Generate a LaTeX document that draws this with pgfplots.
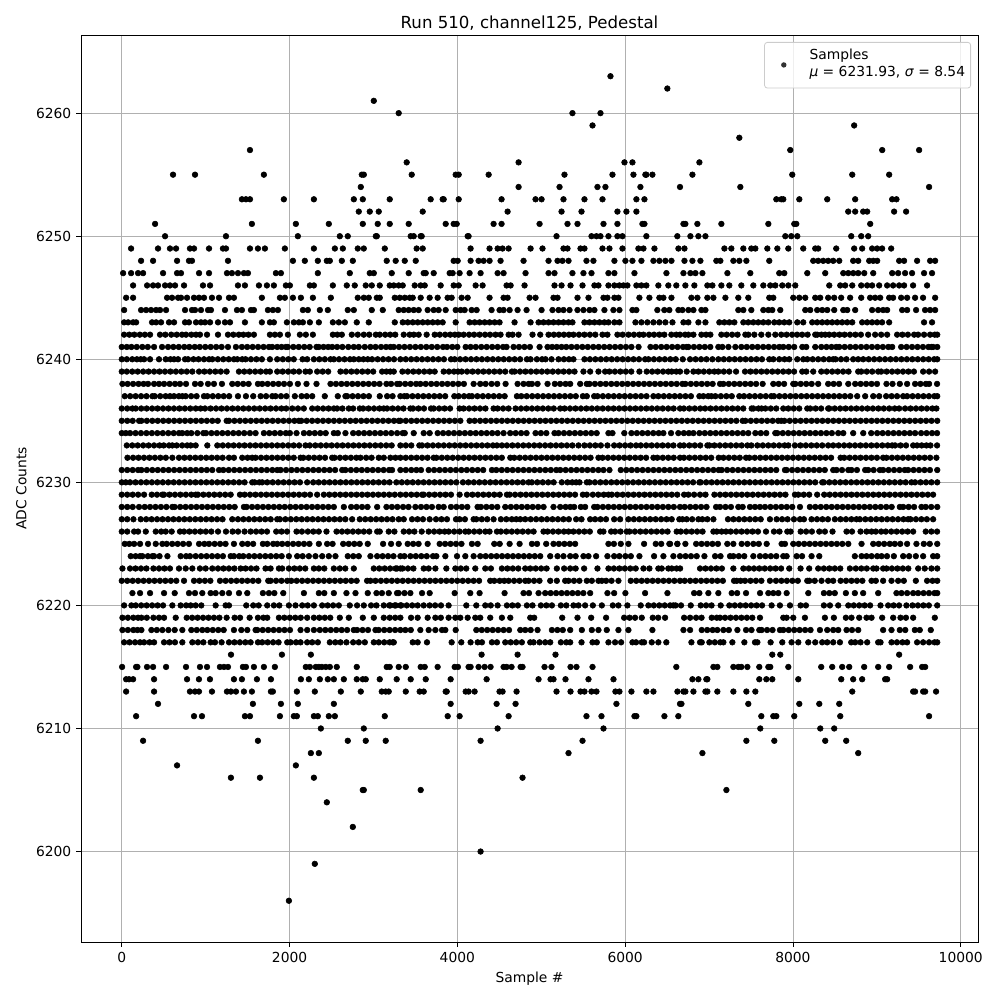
\documentclass[border=0pt]{standalone}
\usepackage{fontspec}
\setmainfont{DejaVu Sans}
\usepackage{pgfplots}
\pgfplotsset{compat=1.18}
\pgfplotsset{
  pts/.style={only marks,mark=*,mark size=2.05pt,mark options={draw=none,fill=black},black,forget plot},
  /pgfplots/table/lv/.style={row sep=\\,header=false,x index=0,y expr=#1}
}
\definecolor{gridc}{HTML}{B0B0B0}
\definecolor{legc}{HTML}{CCCCCC}
\begin{document}
\begin{tikzpicture}
\path[use as bounding box] (-0.81in,-0.58in) rectangle (9.19in,9.42in);
\begin{axis}[
  at={(0,0)},anchor=south west,
  scale only axis,width=8.97in,height=9.07in,
  xmin=-486,xmax=10206,ymin=6192.65,ymax=6266.35,
  xtick={0,2000,4000,6000,8000,10000},
  ytick={6200,6210,6220,6230,6240,6250,6260},
  scaled x ticks=false,scaled y ticks=false,
  grid=major,
  major grid style={color=gridc,line width=0.58pt},
  tick align=outside,tick pos=left,
  major tick length=3.5pt,
  tick style={black,line width=0.58pt},
  axis line style={black,line width=0.58pt},
  /pgf/number format/assume math mode=true,
  /pgf/number format/1000 sep={},
  ticklabel style={font=\fontsize{10}{12}\selectfont},
  label style={font=\fontsize{10}{12}\selectfont},
  xlabel={Sample \#},ylabel={ADC Counts},
  title={Run 510, channel125, Pedestal},
  title style={font=\fontsize{12}{14}\selectfont,yshift=-6pt},
  legend style={at={(0.9922,0.9923)},anchor=north east,draw=legc,line width=0.58pt,rounded corners=2pt,fill=white,fill opacity=0.8,text opacity=1,font=\fontsize{10}{12}\selectfont,inner xsep=2pt,inner ysep=2pt},
  legend cell align=left,
]
\addlegendimage{legend image code/.code={\path[draw=none] (0,-19pt) -- (28.5pt,0);\fill[black,draw=none] (11.9pt,-4.3pt) circle (1.95pt);}}
\addlegendentry{\begin{tabular}{@{}l@{}}Samples\\ \textit{μ} = 6231.93, \textit{σ} = 8.54\end{tabular}}
\addplot[pts] table[lv=6263]{5825\\};
\addplot[pts] table[lv=6262]{6503\\};
\addplot[pts] table[lv=6261]{3004\\};
\addplot[pts] table[lv=6260]{3301\\5372\\5706\\};
\addplot[pts] table[lv=6259]{5611\\8730\\};
\addplot[pts] table[lv=6258]{7361\\};
\addplot[pts] table[lv=6257]{1528\\7968\\9064\\9504\\};
\addplot[pts] table[lv=6256]{3396\\4730\\5992\\6087\\6885\\};
\addplot[pts] table[lv=6255]{611\\873\\1694\\2861\\2885\\3456\\3980\\4016\\4373\\5277\\5849\\6099\\6241\\6253\\6325\\6802\\7992\\8707\\9147\\};
\addplot[pts] table[lv=6254]{2849\\4730\\5218\\5670\\5765\\6182\\6654\\7373\\9623\\};
\addplot[pts] table[lv=6253]{1432\\1480\\1528\\1932\\2290\\2766\\2873\\3194\\3682\\3825\\3837\\4016\\4527\\4932\\5004\\5265\\5515\\5730\\6134\\6230\\7802\\7861\\7885\\8076\\8409\\8742\\9183\\9234\\};
\addplot[pts] table[lv=6252]{2825\\2956\\3063\\3587\\4599\\5242\\5480\\5908\\6015\\6134\\8659\\8742\\8837\\8885\\9206\\9349\\};
\addplot[pts] table[lv=6251]{397\\1551\\2075\\2468\\2873\\3051\\3194\\3420\\3861\\3956\\3992\\4432\\4527\\4980\\5313\\5432\\5742\\5908\\6206\\6230\\6695\\6718\\6861\\7147\\7707\\8016\\8040\\8921\\};
\addplot[pts] table[lv=6250]{516\\1242\\2099\\2599\\2694\\3028\\3040\\3444\\3480\\3563\\3575\\4123\\4134\\5182\\5599\\5658\\5706\\5801\\5908\\5968\\6253\\6622\\6778\\6873\\6957\\7909\\7980\\8052\\8695\\8814\\8897\\};
\addplot[pts] table[lv=6249]{111\\432\\575\\647\\813\\861\\1040\\1206\\1242\\1528\\1623\\1706\\1944\\2290\\2540\\2635\\2813\\2885\\3135\\3515\\3587\\4158\\4384\\4480\\4539\\4611\\4873\\5015\\5265\\5313\\5468\\5515\\5730\\5813\\5968\\6158\\6218\\6349\\6635\\6707\\7183\\7266\\7409\\7504\\7552\\7695\\7814\\7945\\8123\\8266\\8301\\8516\\8730\\8825\\8944\\9004\\9063\\9171\\};
\addplot[pts] table[lv=6248]{230\\373\\659\\801\\837\\1266\\2040\\2182\\2337\\2444\\2480\\2623\\2754\\3158\\3265\\3373\\3504\\3956\\4004\\4158\\4253\\4313\\4384\\4515\\4789\\5087\\5194\\5253\\5325\\5539\\5622\\5872\\6003\\6087\\6194\\6337\\6408\\6480\\6552\\6707\\6802\\6897\\7087\\7135\\7290\\7361\\7445\\7718\\8242\\8301\\8361\\8420\\8480\\8552\\8718\\8778\\8909\\8957\\9004\\9266\\9325\\9480\\9635\\9695\\};
\addplot[pts] table[lv=6247]{16\\111\\194\\254\\492\\659\\706\\921\\1040\\1254\\1313\\1385\\1456\\1504\\1837\\1897\\2337\\2718\\2956\\3004\\3218\\3420\\3599\\3623\\3718\\3908\\3944\\4027\\4146\\4277\\4480\\4551\\4813\\5087\\5158\\5372\\5503\\5599\\5801\\5872\\6111\\6492\\6695\\6778\\6838\\6921\\7219\\7492\\7837\\7897\\8171\\8385\\8600\\8660\\8719\\8778\\8850\\8957\\9183\\9254\\9337\\9420\\9563\\9658\\};
\addplot[pts] table[lv=6246]{135\\302\\373\\432\\516\\575\\635\\742\\968\\1052\\1385\\1468\\1635\\1730\\1813\\1956\\2004\\2242\\2290\\2516\\2682\\2777\\2908\\2980\\3075\\3194\\3242\\3301\\3349\\3492\\3563\\3611\\3801\\3956\\4016\\4218\\4301\\4587\\4635\\4801\\5158\\5242\\5349\\5492\\5634\\5682\\5801\\5872\\5932\\5980\\6027\\6134\\6194\\6253\\6396\\6515\\6610\\6718\\6825\\6980\\7040\\7147\\7242\\7385\\7528\\7647\\7730\\7790\\7873\\7945\\8028\\8433\\8564\\8623\\8707\\8814\\8885\\8944\\9028\\9123\\9194\\9266\\9325\\9432\\9599\\};
\addplot[pts] table[lv=6245]{52\\135\\540\\599\\671\\706\\778\\861\\921\\980\\1075\\1159\\1278\\1337\\1670\\1885\\1944\\2040\\2135\\2278\\2492\\2813\\2885\\2944\\3040\\3075\\3254\\3313\\3373\\3432\\3468\\3563\\3670\\3765\\3884\\3932\\4051\\4123\\4384\\4551\\4599\\4861\\4932\\5146\\5194\\5432\\5563\\5742\\5789\\5872\\5920\\6170\\6289\\6408\\6456\\6552\\6790\\6861\\6980\\7052\\7195\\7349\\7468\\7718\\7766\\8004\\8076\\8147\\8266\\8325\\8420\\8492\\8575\\8682\\8814\\8920\\8980\\9040\\9147\\9194\\9290\\9361\\9456\\9551\\9695\\};
\addplot[pts] table[lv=6244]{28\\230\\290\\349\\409\\456\\528\\754\\837\\873\\944\\1028\\1063\\1230\\1373\\1432\\1540\\1575\\1742\\1801\\1861\\2159\\2218\\2361\\2456\\2694\\2766\\2980\\3111\\3301\\3361\\3420\\3480\\3539\\3646\\3718\\3777\\3861\\3980\\4039\\4087\\4170\\4230\\4408\\4503\\4551\\4623\\4718\\4825\\5004\\5134\\5206\\5265\\5337\\5432\\5503\\5575\\5634\\5753\\5860\\5932\\6087\\6134\\6384\\6467\\6527\\6635\\6683\\6754\\6814\\6909\\6957\\7349\\7409\\7504\\7647\\7707\\7754\\7849\\8147\\8206\\8289\\8349\\8409\\8492\\8600\\8647\\8742\\8944\\9016\\9075\\9123\\9302\\9361\\9468\\9575\\9635\\9695\\};
\addplot[pts] table[lv=6243]{28\\76\\135\\171\\361\\409\\468\\563\\623\\754\\801\\885\\944\\992\\1052\\1147\\1230\\1290\\1468\\1670\\1766\\1813\\1968\\2051\\2111\\2159\\2242\\2349\\2516\\2587\\2659\\2801\\2944\\3254\\3349\\3408\\3468\\3527\\3587\\3646\\3706\\3765\\3825\\3980\\4146\\4206\\4265\\4325\\4384\\4444\\4503\\4682\\4873\\4968\\5027\\5087\\5146\\5206\\5265\\5325\\5372\\5515\\5575\\5634\\5694\\5753\\5801\\5872\\5932\\6123\\6194\\6265\\6337\\6408\\6480\\6564\\6695\\6754\\6873\\6957\\7123\\7183\\7242\\7302\\7409\\7468\\7528\\7587\\7647\\7707\\7778\\7837\\7897\\7956\\8052\\8123\\8230\\8289\\8349\\8409\\8468\\8528\\8587\\8647\\8707\\8825\\8885\\8944\\9004\\9063\\9147\\9563\\9658\\};
\addplot[pts] table[lv=6242]{28\\90\\150\\215\\275\\337\\456\\520\\590\\655\\718\\766\\830\\885\\932\\1016\\1147\\1266\\1330\\1395\\1450\\1510\\1575\\1766\\1825\\1885\\1980\\2123\\2194\\2278\\2516\\2570\\2623\\2742\\2813\\2885\\2950\\3028\\3075\\3140\\3200\\3260\\3361\\3432\\3480\\3539\\3634\\3730\\3790\\3855\\3915\\3970\\4016\\4075\\4140\\4200\\4265\\4330\\4390\\4455\\4515\\4611\\4658\\4730\\4896\\4988\\5087\\5150\\5210\\5270\\5330\\5384\\5450\\5515\\5580\\5645\\5730\\5789\\5908\\5970\\6040\\6105\\6170\\6218\\6285\\6345\\6408\\6467\\6551\\6610\\6654\\6715\\6754\\6814\\6909\\6965\\7016\\7147\\7210\\7275\\7340\\7433\\7468\\7540\\7623\\7707\\7790\\7861\\7925\\7990\\8050\\8110\\8175\\8266\\8289\\8340\\8385\\8433\\8492\\8555\\8615\\8680\\8745\\8810\\8897\\8980\\9052\\9123\\9242\\9305\\9370\\9445\\9492\\9563\\9635\\9690\\9720\\};
\addplot[pts] table[lv=6241]{0\\60\\115\\179\\245\\310\\385\\480\\552\\615\\680\\745\\805\\870\\930\\995\\1060\\1125\\1190\\1266\\1361\\1432\\1495\\1560\\1625\\1690\\1754\\1793\\1853\\1905\\1956\\1980\\2045\\2110\\2175\\2240\\2321\\2349\\2405\\2460\\2508\\2567\\2630\\2700\\2766\\2825\\2897\\2964\\3025\\3090\\3150\\3202\\3242\\3305\\3370\\3435\\3500\\3565\\3630\\3695\\3760\\3829\\3877\\3940\\4000\\4099\\4158\\4220\\4285\\4350\\4415\\4480\\4545\\4587\\4670\\4735\\4800\\4865\\4980\\5075\\5130\\5185\\5242\\5298\\5360\\5425\\5490\\5555\\5620\\5685\\5750\\5815\\5880\\5945\\6010\\6075\\6160\\6302\\6365\\6430\\6495\\6560\\6625\\6690\\6734\\6754\\6820\\6885\\6950\\7015\\7111\\7159\\7231\\7314\\7385\\7450\\7515\\7580\\7645\\7710\\7775\\7837\\7885\\7950\\8015\\8112\\8159\\8266\\8338\\8400\\8460\\8516\\8552\\8617\\8682\\8747\\8812\\8877\\8942\\9007\\9072\\9137\\9183\\9290\\9355\\9420\\9485\\9550\\9615\\9651\\9671\\9720\\};
\addplot[pts] table[lv=6240]{0\\60\\125\\180\\226\\266\\337\\444\\524\\580\\623\\671\\754\\790\\855\\915\\980\\1040\\1079\\1145\\1210\\1275\\1337\\1377\\1436\\1476\\1540\\1605\\1670\\1766\\1853\\1920\\1985\\2050\\2155\\2210\\2290\\2355\\2420\\2488\\2528\\2590\\2655\\2720\\2766\\2825\\2880\\2932\\2984\\3050\\3115\\3180\\3245\\3321\\3385\\3450\\3515\\3580\\3645\\3710\\3775\\3840\\3924\\3968\\4033\\4098\\4163\\4228\\4293\\4358\\4423\\4488\\4553\\4618\\4683\\4748\\4829\\4873\\4948\\5010\\5051\\5123\\5206\\5270\\5330\\5384\\5515\\5580\\5645\\5710\\5775\\5840\\5905\\5970\\6035\\6100\\6165\\6238\\6278\\6343\\6408\\6473\\6538\\6603\\6687\\6774\\6840\\6905\\6970\\7040\\7111\\7176\\7241\\7306\\7371\\7436\\7501\\7566\\7631\\7718\\7766\\7837\\7900\\7956\\8052\\8123\\8171\\8236\\8301\\8366\\8431\\8480\\8508\\8573\\8638\\8718\\8778\\8838\\8903\\8968\\9033\\9098\\9163\\9228\\9293\\9358\\9423\\9488\\9553\\9618\\9683\\9720\\};
\addplot[pts] table[lv=6239]{0\\60\\125\\190\\255\\320\\385\\450\\515\\580\\645\\710\\775\\841\\921\\985\\1050\\1115\\1180\\1250\\1397\\1460\\1525\\1590\\1655\\1720\\1766\\1853\\1918\\1983\\2048\\2113\\2190\\2242\\2329\\2395\\2460\\2607\\2672\\2737\\2802\\2867\\2932\\2997\\3103\\3155\\3200\\3242\\3345\\3410\\3475\\3540\\3605\\3670\\3730\\3837\\3900\\3960\\4008\\4051\\4116\\4181\\4246\\4311\\4376\\4441\\4506\\4571\\4650\\4682\\4747\\4812\\4877\\4942\\5007\\5072\\5137\\5202\\5267\\5332\\5397\\5503\\5583\\5682\\5761\\5813\\5878\\5943\\6008\\6073\\6170\\6257\\6322\\6387\\6452\\6515\\6555\\6610\\6654\\6734\\6814\\6873\\6938\\7003\\7064\\7111\\7176\\7241\\7322\\7429\\7494\\7559\\7624\\7689\\7754\\7819\\7884\\7949\\8014\\8111\\8159\\8242\\8338\\8403\\8468\\8533\\8598\\8663\\8778\\8814\\8880\\8945\\9016\\9052\\9117\\9182\\9247\\9312\\9377\\9442\\9552\\9623\\9695\\};
\addplot[pts] table[lv=6238]{8\\70\\135\\200\\260\\313\\385\\444\\504\\570\\635\\694\\766\\873\\940\\1028\\1099\\1194\\1317\\1382\\1447\\1512\\1623\\1674\\1739\\1804\\1869\\1934\\2004\\2099\\2202\\2321\\2488\\2553\\2618\\2683\\2748\\2813\\2878\\2943\\3008\\3073\\3155\\3210\\3282\\3313\\3378\\3443\\3508\\3559\\3623\\3688\\3753\\3818\\3883\\3948\\4013\\4078\\4194\\4273\\4337\\4408\\4475\\4575\\4718\\4789\\4850\\4889\\4956\\5075\\5162\\5225\\5290\\5345\\5464\\5543\\5575\\5640\\5705\\5770\\5835\\5900\\5965\\6030\\6095\\6160\\6225\\6290\\6355\\6420\\6485\\6550\\6615\\6683\\6718\\6783\\6848\\6913\\6978\\7043\\7131\\7171\\7236\\7301\\7366\\7431\\7496\\7561\\7639\\7766\\7830\\7895\\8004\\8028\\8093\\8158\\8223\\8301\\8420\\8485\\8550\\8660\\8742\\8807\\8872\\8937\\9002\\9115\\9187\\9274\\9361\\9456\\9520\\9585\\9623\\9718\\};
\addplot[pts] table[lv=6237]{36\\100\\165\\230\\295\\365\\393\\458\\523\\575\\623\\680\\722\\762\\827\\892\\980\\1020\\1085\\1150\\1215\\1280\\1385\\1480\\1567\\1655\\1720\\1794\\1833\\1898\\1963\\2063\\2143\\2205\\2270\\2420\\2575\\2666\\2686\\2751\\2816\\2881\\2946\\3075\\3163\\3228\\3321\\3369\\3400\\3465\\3530\\3595\\3660\\3725\\3790\\3855\\3964\\4016\\4080\\4139\\4174\\4239\\4304\\4369\\4434\\4499\\4564\\4710\\4762\\4827\\4892\\4957\\5022\\5087\\5152\\5217\\5282\\5347\\5412\\5496\\5543\\5631\\5670\\5735\\5800\\5865\\5930\\5995\\6060\\6125\\6190\\6255\\6337\\6396\\6461\\6526\\6591\\6654\\6719\\6784\\6885\\6933\\6990\\7028\\7076\\7141\\7206\\7271\\7361\\7417\\7482\\7547\\7612\\7677\\7742\\7774\\7839\\7904\\7969\\8034\\8099\\8164\\8229\\8294\\8359\\8424\\8489\\8554\\8619\\8684\\8766\\8861\\8957\\9028\\9111\\9176\\9241\\9314\\9361\\9426\\9491\\9556\\9621\\9686\\9720\\};
\addplot[pts] table[lv=6236]{0\\65\\127\\167\\232\\297\\362\\427\\492\\557\\622\\687\\752\\817\\882\\940\\992\\1059\\1124\\1189\\1254\\1319\\1384\\1449\\1514\\1579\\1644\\1709\\1774\\1839\\1904\\1960\\2032\\2100\\2170\\2270\\2335\\2400\\2465\\2528\\2567\\2630\\2706\\2758\\2837\\2877\\2942\\3007\\3072\\3123\\3163\\3228\\3293\\3358\\3440\\3472\\3537\\3602\\3686\\3718\\3783\\3848\\3913\\4027\\4075\\4140\\4205\\4270\\4335\\4432\\4480\\4545\\4611\\4694\\4759\\4824\\4889\\4954\\5019\\5084\\5149\\5226\\5278\\5343\\5408\\5473\\5538\\5603\\5668\\5733\\5798\\5863\\5928\\5993\\6058\\6123\\6188\\6253\\6318\\6383\\6448\\6513\\6578\\6654\\6700\\6765\\6830\\6895\\6953\\7018\\7083\\7148\\7213\\7278\\7343\\7408\\7508\\7528\\7590\\7627\\7671\\7736\\7801\\7885\\7945\\8010\\8075\\8171\\8206\\8271\\8336\\8420\\8433\\8498\\8563\\8628\\8693\\8758\\8823\\8888\\8953\\9018\\9083\\9148\\9213\\9266\\9337\\9402\\9467\\9532\\9597\\9662\\9710\\};
\addplot[pts] table[lv=6235]{0\\65\\130\\206\\234\\299\\364\\429\\494\\559\\624\\689\\754\\819\\884\\949\\1014\\1079\\1144\\1250\\1278\\1343\\1408\\1473\\1538\\1603\\1668\\1733\\1798\\1863\\1928\\1993\\2058\\2111\\2139\\2204\\2269\\2334\\2399\\2464\\2529\\2594\\2659\\2724\\2789\\2854\\2919\\2984\\3049\\3114\\3179\\3244\\3301\\3321\\3386\\3451\\3516\\3581\\3646\\3711\\3776\\3841\\3906\\3971\\4036\\4146\\4206\\4271\\4336\\4401\\4466\\4531\\4596\\4661\\4726\\4791\\4856\\4921\\4986\\5051\\5116\\5181\\5246\\5311\\5376\\5441\\5506\\5571\\5636\\5701\\5766\\5831\\5896\\5961\\6026\\6091\\6156\\6221\\6286\\6351\\6416\\6481\\6546\\6611\\6676\\6741\\6806\\6871\\6936\\7001\\7066\\7131\\7196\\7261\\7326\\7401\\7433\\7498\\7563\\7628\\7693\\7758\\7823\\7861\\7897\\7962\\8027\\8092\\8157\\8222\\8287\\8352\\8417\\8482\\8547\\8612\\8677\\8742\\8807\\8872\\8937\\9002\\9067\\9132\\9197\\9262\\9327\\9392\\9457\\9522\\9587\\9652\\9720\\};
\addplot[pts] table[lv=6234]{0\\48\\99\\164\\229\\294\\359\\424\\489\\554\\619\\682\\722\\780\\829\\901\\972\\1004\\1069\\1134\\1199\\1264\\1329\\1394\\1459\\1528\\1595\\1694\\1759\\1824\\1889\\1956\\2004\\2083\\2171\\2236\\2301\\2366\\2431\\2528\\2575\\2666\\2758\\2823\\2888\\2953\\3018\\3083\\3148\\3213\\3282\\3349\\3373\\3480\\3599\\3670\\3765\\3830\\3895\\3960\\4025\\4090\\4155\\4220\\4285\\4350\\4415\\4480\\4551\\4630\\4695\\4760\\4825\\4932\\4996\\5061\\5158\\5206\\5271\\5336\\5401\\5466\\5531\\5596\\5661\\5801\\5849\\5990\\6075\\6140\\6205\\6270\\6335\\6400\\6456\\6547\\6634\\6700\\6760\\6814\\6885\\6950\\7015\\7080\\7145\\7210\\7275\\7340\\7405\\7468\\7552\\7617\\7682\\7790\\7814\\7879\\7944\\8009\\8074\\8139\\8204\\8269\\8334\\8399\\8464\\8540\\8600\\8718\\8838\\8933\\9004\\9069\\9134\\9199\\9264\\9329\\9394\\9456\\9528\\9593\\9658\\9718\\};
\addplot[pts] table[lv=6233]{60\\125\\190\\255\\320\\385\\450\\500\\563\\603\\655\\720\\780\\821\\881\\1020\\1139\\1204\\1269\\1334\\1399\\1464\\1529\\1594\\1659\\1724\\1789\\1854\\1919\\1984\\2049\\2114\\2190\\2242\\2307\\2372\\2437\\2502\\2567\\2632\\2697\\2762\\2827\\2892\\2957\\3022\\3087\\3152\\3217\\3321\\3386\\3451\\3547\\3579\\3644\\3709\\3774\\3839\\3904\\3969\\4034\\4099\\4164\\4229\\4294\\4359\\4424\\4472\\4531\\4591\\4656\\4721\\4786\\4851\\4916\\4981\\5046\\5111\\5176\\5241\\5306\\5371\\5444\\5515\\5580\\5645\\5710\\5789\\5869\\5934\\5999\\6064\\6130\\6186\\6251\\6316\\6381\\6446\\6511\\6576\\6654\\6700\\6765\\6830\\6895\\6980\\7004\\7064\\7129\\7194\\7259\\7324\\7389\\7457\\7504\\7576\\7641\\7706\\7771\\7836\\7901\\7945\\8024\\8089\\8154\\8219\\8284\\8349\\8420\\8480\\8545\\8610\\8675\\8740\\8805\\8870\\8935\\9000\\9065\\9130\\9183\\9218\\9283\\9348\\9433\\9480\\9535\\9591\\9639\\9718\\};
\addplot[pts] table[lv=6232]{68\\135\\200\\265\\330\\395\\460\\525\\603\\682\\747\\812\\877\\942\\1007\\1072\\1137\\1202\\1278\\1337\\1436\\1500\\1555\\1595\\1660\\1725\\1790\\1855\\1920\\1985\\2050\\2131\\2163\\2228\\2293\\2358\\2423\\2508\\2536\\2601\\2666\\2731\\2796\\2845\\2913\\2978\\3063\\3123\\3202\\3262\\3321\\3385\\3450\\3515\\3580\\3645\\3718\\3750\\3815\\3880\\3945\\4010\\4075\\4140\\4205\\4270\\4335\\4400\\4465\\4530\\4631\\4678\\4743\\4808\\4873\\4938\\5003\\5068\\5133\\5198\\5263\\5328\\5393\\5458\\5523\\5588\\5682\\5730\\5795\\5860\\5925\\5990\\6055\\6120\\6185\\6250\\6337\\6384\\6449\\6514\\6579\\6654\\6701\\6766\\6831\\6896\\6961\\7026\\7115\\7171\\7236\\7301\\7366\\7441\\7480\\7545\\7610\\7675\\7740\\7805\\7870\\7935\\8000\\8065\\8130\\8195\\8260\\8325\\8390\\8455\\8568\\8611\\8676\\8741\\8806\\8871\\8936\\9001\\9075\\9115\\9180\\9245\\9310\\9375\\9440\\9505\\9570\\9635\\9710\\};
\addplot[pts] table[lv=6231]{0\\65\\130\\194\\234\\299\\364\\429\\494\\559\\624\\689\\754\\819\\884\\949\\1014\\1079\\1159\\1210\\1275\\1340\\1405\\1470\\1535\\1600\\1665\\1730\\1795\\1853\\1893\\1958\\2023\\2088\\2153\\2218\\2283\\2348\\2413\\2478\\2543\\2627\\2666\\2731\\2796\\2861\\2926\\2991\\3056\\3121\\3186\\3222\\3321\\3386\\3451\\3512\\3567\\3658\\3723\\3788\\3853\\3918\\3983\\4048\\4113\\4178\\4243\\4308\\4412\\4464\\4529\\4594\\4659\\4724\\4789\\4854\\4919\\4984\\5049\\5114\\5179\\5226\\5291\\5356\\5421\\5486\\5551\\5616\\5681\\5742\\5813\\5948\\6013\\6078\\6143\\6208\\6273\\6338\\6403\\6468\\6533\\6598\\6663\\6728\\6793\\6858\\6923\\6988\\7053\\7115\\7151\\7216\\7281\\7346\\7411\\7476\\7541\\7606\\7671\\7736\\7801\\7905\\7925\\7990\\8055\\8120\\8185\\8250\\8315\\8380\\8480\\8520\\8585\\8660\\8698\\8763\\8861\\8897\\8962\\9036\\9075\\9140\\9205\\9270\\9333\\9373\\9438\\9503\\9568\\9633\\9720\\};
\addplot[pts] table[lv=6230]{0\\48\\99\\164\\229\\294\\359\\424\\489\\554\\619\\684\\749\\814\\879\\944\\1009\\1074\\1139\\1204\\1269\\1334\\1399\\1464\\1555\\1583\\1640\\1674\\1734\\1799\\1864\\1929\\1994\\2059\\2124\\2210\\2282\\2347\\2412\\2477\\2542\\2607\\2672\\2737\\2802\\2867\\2932\\2997\\3062\\3127\\3192\\3273\\3338\\3403\\3468\\3533\\3598\\3663\\3728\\3793\\3858\\3923\\3988\\4067\\4132\\4197\\4262\\4327\\4392\\4457\\4522\\4587\\4652\\4717\\4782\\4849\\4888\\4953\\5018\\5083\\5148\\5245\\5313\\5370\\5416\\5456\\5543\\5575\\5640\\5705\\5770\\5835\\5900\\5965\\6030\\6095\\6160\\6225\\6290\\6355\\6420\\6485\\6550\\6615\\6680\\6745\\6810\\6885\\6901\\6966\\7031\\7096\\7161\\7226\\7291\\7356\\7421\\7486\\7551\\7616\\7681\\7746\\7811\\7876\\7941\\8006\\8071\\8136\\8201\\8266\\8349\\8369\\8434\\8499\\8564\\8629\\8694\\8759\\8824\\8889\\8954\\9019\\9084\\9149\\9214\\9279\\9344\\9413\\9456\\9521\\9586\\9651\\9720\\};
\addplot[pts] table[lv=6229]{0\\65\\130\\195\\266\\357\\420\\484\\504\\569\\634\\699\\764\\829\\881\\908\\973\\1038\\1103\\1168\\1233\\1298\\1409\\1464\\1529\\1594\\1659\\1724\\1789\\1854\\1919\\1984\\2049\\2114\\2179\\2244\\2329\\2409\\2474\\2539\\2604\\2669\\2734\\2799\\2864\\2929\\2994\\3059\\3124\\3189\\3254\\3321\\3386\\3451\\3516\\3579\\3599\\3664\\3729\\3794\\3859\\3924\\4027\\4115\\4180\\4245\\4310\\4375\\4440\\4505\\4591\\4623\\4688\\4753\\4818\\4883\\4948\\5013\\5078\\5143\\5208\\5273\\5338\\5403\\5496\\5543\\5615\\5680\\5745\\5801\\5841\\5906\\5971\\6036\\6101\\6166\\6231\\6296\\6361\\6426\\6491\\6556\\6621\\6703\\6754\\6822\\6893\\6958\\7064\\7131\\7196\\7261\\7326\\7391\\7456\\7521\\7586\\7651\\7716\\7781\\7846\\7911\\8024\\8064\\8129\\8194\\8289\\8373\\8438\\8503\\8568\\8633\\8698\\8763\\8828\\8893\\8958\\9023\\9088\\9153\\9218\\9283\\9348\\9413\\9478\\9543\\9608\\9671\\};
\addplot[pts] table[lv=6228]{0\\65\\130\\206\\274\\337\\402\\467\\532\\603\\631\\696\\761\\826\\891\\956\\1021\\1086\\1151\\1216\\1281\\1346\\1456\\1488\\1553\\1618\\1683\\1748\\1813\\1878\\1943\\2008\\2073\\2138\\2203\\2268\\2333\\2398\\2463\\2528\\2647\\2734\\2799\\2864\\2929\\3044\\3155\\3220\\3285\\3353\\3418\\3500\\3567\\3632\\3697\\3777\\3837\\3924\\3989\\4054\\4119\\4241\\4281\\4346\\4411\\4476\\4571\\4638\\4703\\4768\\4833\\4898\\4963\\5028\\5146\\5226\\5290\\5345\\5392\\5472\\5523\\5631\\5670\\5735\\5800\\5865\\5930\\5995\\6060\\6125\\6190\\6255\\6320\\6385\\6450\\6515\\6580\\6654\\6710\\6775\\6840\\6905\\6970\\7084\\7131\\7196\\7261\\7349\\7401\\7488\\7548\\7607\\7667\\7732\\7797\\7862\\7927\\7992\\8084\\8202\\8267\\8332\\8397\\8462\\8527\\8592\\8657\\8722\\8787\\8852\\8917\\8982\\9047\\9112\\9177\\9274\\9314\\9379\\9444\\9532\\9583\\9648\\9720\\};
\addplot[pts] table[lv=6227]{0\\65\\139\\226\\291\\356\\421\\486\\551\\616\\681\\746\\811\\876\\941\\1006\\1071\\1136\\1201\\1317\\1385\\1450\\1515\\1580\\1645\\1710\\1775\\1853\\1885\\1950\\2015\\2080\\2145\\2210\\2275\\2340\\2405\\2470\\2535\\2600\\2665\\2746\\2837\\2902\\2967\\3032\\3097\\3162\\3227\\3301\\3361\\3460\\3525\\3590\\3670\\3746\\3811\\3876\\3984\\4027\\4090\\4194\\4226\\4291\\4356\\4432\\4519\\4584\\4649\\4702\\4750\\4809\\4874\\4939\\5004\\5069\\5134\\5199\\5264\\5329\\5416\\5480\\5583\\5642\\5707\\5772\\5869\\5940\\6039\\6104\\6169\\6234\\6299\\6364\\6429\\6494\\6555\\6646\\6683\\6734\\6799\\6873\\6920\\6980\\7052\\7226\\7291\\7356\\7421\\7486\\7551\\7616\\7726\\7806\\7871\\7936\\8012\\8084\\8131\\8222\\8287\\8352\\8417\\8500\\8567\\8632\\8697\\8758\\8798\\8863\\8928\\8993\\9058\\9123\\9188\\9253\\9318\\9373\\9401\\9466\\9531\\9596\\9671\\};
\addplot[pts] table[lv=6226]{0\\65\\147\\194\\286\\405\\470\\524\\595\\694\\742\\807\\872\\937\\1002\\1067\\1147\\1242\\1321\\1386\\1464\\1536\\1601\\1666\\1731\\1841\\1905\\1970\\2083\\2147\\2218\\2283\\2348\\2440\\2560\\2625\\2690\\2755\\2820\\2885\\2950\\3044\\3075\\3182\\3250\\3361\\3425\\3488\\3575\\3658\\3723\\3788\\3849\\3897\\3962\\4027\\4095\\4135\\4200\\4265\\4333\\4384\\4472\\4519\\4584\\4649\\4714\\4779\\4844\\4909\\5027\\5075\\5140\\5205\\5270\\5325\\5384\\5449\\5514\\5579\\5702\\5741\\5833\\5880\\5945\\6019\\6051\\6116\\6181\\6246\\6311\\6376\\6441\\6506\\6614\\6663\\6728\\6793\\6858\\6923\\7052\\7092\\7150\\7202\\7258\\7323\\7388\\7453\\7518\\7583\\7679\\7774\\7840\\7933\\7972\\8092\\8157\\8226\\8314\\8381\\8472\\8639\\8704\\8806\\8877\\8937\\8988\\9052\\9107\\9172\\9237\\9302\\9367\\9433\\9583\\9650\\9718\\};
\addplot[pts] table[lv=6225]{36\\90\\147\\218\\313\\405\\484\\536\\601\\666\\731\\801\\921\\985\\1040\\1107\\1172\\1237\\1337\\1436\\1501\\1566\\1682\\1734\\1805\\1853\\1912\\1977\\2042\\2107\\2172\\2237\\2349\\2448\\2513\\2639\\2706\\2771\\2836\\2932\\3115\\3210\\3301\\3408\\3473\\3538\\3646\\3789\\3854\\3919\\3984\\4049\\4174\\4242\\4440\\4505\\4623\\4742\\4889\\4950\\5059\\5146\\5211\\5276\\5341\\5404\\5801\\5866\\5948\\6039\\6226\\6365\\6430\\6527\\6622\\6536\\6623\\6718\\6846\\6911\\6976\\7041\\7106\\7218\\7290\\7389\\7457\\7528\\7593\\7687\\7865\\7905\\8004\\8069\\8134\\8199\\8264\\8329\\8394\\8459\\8524\\8589\\8660\\8818\\8957\\9022\\9087\\9155\\9214\\9279\\9361\\9472\\9560\\9631\\9720\\};
\addplot[pts] table[lv=6224]{107\\165\\218\\246\\311\\365\\385\\450\\544\\702\\767\\813\\881\\946\\1011\\1076\\1141\\1206\\1298\\1337\\1400\\1448\\1516\\1581\\1646\\1711\\1776\\1841\\1906\\1992\\2091\\2156\\2230\\2309\\2389\\2468\\2547\\2694\\2759\\2825\\2964\\3044\\3109\\3174\\3239\\3321\\3369\\3440\\3505\\3570\\3635\\3710\\3750\\3857\\3996\\4095\\4194\\4273\\4338\\4403\\4468\\4533\\4598\\4663\\4728\\4793\\4858\\4923\\4988\\5107\\5194\\5265\\5345\\5410\\5503\\5563\\5654\\5789\\5869\\5932\\6003\\6068\\6170\\6345\\6456\\6575\\6654\\6720\\6785\\6853\\6945\\7072\\7137\\7250\\7290\\7355\\7420\\7528\\7607\\7672\\7737\\7802\\7885\\7925\\8044\\8109\\8222\\8314\\8738\\8818\\8877\\8937\\9004\\9056\\9121\\9203\\9314\\9385\\9465\\9552\\9671\\9720\\};
\addplot[pts] table[lv=6223]{8\\99\\164\\229\\294\\377\\444\\509\\574\\682\\762\\841\\932\\1000\\1079\\1147\\1212\\1277\\1342\\1417\\1476\\1541\\1606\\1714\\1774\\1873\\1912\\1992\\2057\\2122\\2187\\2290\\2349\\2414\\2528\\2599\\2664\\2766\\3004\\3069\\3134\\3199\\3264\\3321\\3281\\3346\\3411\\3476\\3599\\3658\\3738\\3869\\3976\\4041\\4106\\4214\\4333\\4400\\4531\\4596\\4661\\4726\\4809\\4869\\4934\\4999\\5064\\5186\\5273\\5345\\5410\\5511\\5670\\5801\\5866\\5931\\5996\\6061\\6126\\6218\\6289\\6396\\6436\\6515\\6614\\6556\\6655\\6893\\6958\\7023\\7088\\7153\\7290\\7409\\7474\\7536\\7599\\7664\\7729\\7794\\7859\\7956\\8091\\8194\\8301\\8369\\8434\\8499\\8564\\8679\\8750\\8815\\8880\\8957\\8996\\9075\\9115\\9180\\9245\\9310\\9375\\9493\\9571\\9651\\9720\\};
\addplot[pts] table[lv=6222]{0\\65\\130\\195\\260\\325\\390\\455\\520\\585\\650\\742\\861\\926\\991\\1056\\1171\\1238\\1303\\1368\\1433\\1498\\1563\\1628\\1746\\1774\\1839\\1904\\1972\\2020\\2085\\2150\\2215\\2280\\2345\\2410\\2475\\2540\\2605\\2670\\2735\\2800\\2924\\2964\\3024\\3089\\3154\\3219\\3284\\3349\\3414\\3479\\3544\\3609\\3674\\3739\\3804\\3869\\3934\\3999\\4064\\4129\\4194\\4259\\4392\\4440\\4505\\4559\\4611\\4676\\4741\\4809\\4849\\4914\\4979\\5107\\5186\\5285\\5325\\5390\\5455\\5543\\5603\\5682\\5722\\5773\\5838\\5920\\6067\\6132\\6197\\6262\\6327\\6392\\6457\\6522\\6587\\6654\\6710\\6775\\6840\\6905\\6970\\7035\\7100\\7165\\7298\\7330\\7377\\7429\\7494\\7559\\7624\\7726\\7798\\7863\\7928\\7993\\8058\\8171\\8195\\8260\\8341\\8420\\8480\\8568\\8633\\8698\\8763\\8828\\8937\\8988\\9075\\9175\\9254\\9322\\9465\\9599\\9664\\9720\\};
\addplot[pts] table[lv=6221]{127\\218\\337\\504\\631\\801\\873\\960\\1059\\1119\\1198\\1278\\1397\\1496\\1682\\1754\\1819\\1925\\2171\\2349\\2414\\2528\\2678\\2786\\2932\\3036\\3101\\3182\\3281\\3301\\3370\\3440\\3579\\3670\\3968\\4154\\4265\\4563\\4789\\4854\\4968\\5047\\5112\\5177\\5242\\5307\\5372\\5437\\5502\\5583\\5789\\5869\\6003\\6238\\6504\\6822\\6885\\6992\\7111\\7270\\7335\\7441\\7608\\7707\\7766\\7826\\7925\\8183\\8369\\8434\\8499\\8631\\8738\\8837\\9016\\9234\\9294\\9361\\9433\\9492\\9557\\9622\\9687\\9720\\};
\addplot[pts] table[lv=6220]{28\\115\\167\\232\\297\\362\\427\\492\\603\\702\\767\\821\\881\\948\\1119\\1238\\1278\\1484\\1567\\1632\\1734\\1813\\1878\\1992\\2071\\2151\\2216\\2290\\2389\\2454\\2519\\2587\\2718\\2805\\2885\\2972\\3036\\3123\\3188\\3253\\3321\\3202\\3267\\3332\\3397\\3462\\3527\\3599\\3670\\3735\\3805\\3896\\4107\\4226\\4333\\4398\\4480\\4591\\4656\\4721\\4829\\4896\\4996\\5061\\5127\\5234\\5299\\5384\\5444\\5523\\5615\\5722\\5853\\5920\\6027\\6186\\6277\\6342\\6407\\6472\\6575\\6536\\6601\\6666\\6782\\6901\\6965\\7030\\7139\\7242\\7307\\7372\\7437\\7502\\7567\\7632\\7746\\7845\\7965\\8091\\8155\\8369\\8441\\8540\\8660\\8725\\8790\\8855\\8920\\9044\\9135\\9200\\9265\\9353\\9425\\9490\\9555\\9620\\9720\\};
\addplot[pts] table[lv=6219]{8\\73\\138\\194\\234\\298\\377\\444\\504\\643\\774\\839\\904\\969\\1034\\1099\\1164\\1250\\1345\\1410\\1524\\1623\\1688\\1734\\1873\\1938\\2003\\2068\\2133\\2210\\2290\\2355\\2420\\2485\\2599\\2706\\2873\\3004\\3123\\3194\\3259\\3321\\3448\\3527\\3646\\3738\\3803\\3896\\3976\\4035\\4123\\4214\\4273\\4392\\4531\\4631\\4869\\4916\\5250\\5432\\5595\\5773\\5988\\6053\\6118\\6198\\6329\\6394\\6476\\6703\\6774\\6846\\6911\\7032\\7092\\7131\\7191\\7256\\7321\\7386\\7451\\7516\\7607\\7885\\7925\\8004\\8143\\8381\\8488\\8631\\8698\\8790\\8877\\8937\\9064\\9195\\9282\\9347\\9433\\9691\\};
\addplot[pts] table[lv=6218]{8\\73\\138\\186\\234\\353\\418\\484\\556\\631\\722\\829\\894\\960\\1020\\1085\\1150\\1215\\1337\\1425\\1496\\1595\\1615\\1680\\1745\\1810\\1875\\1940\\2005\\2131\\2210\\2290\\2361\\2426\\2491\\2556\\2621\\2686\\2766\\2805\\2870\\2935\\3024\\3063\\3128\\3193\\3258\\3321\\3380\\3445\\3559\\3658\\3738\\3817\\3857\\3980\\4226\\4291\\4356\\4421\\4486\\4551\\4616\\4750\\4809\\4874\\4956\\5127\\5192\\5257\\5345\\5484\\5603\\5682\\5781\\5920\\6039\\6325\\6695\\6774\\6913\\6978\\7043\\7099\\7171\\7236\\7338\\7441\\7506\\7599\\7627\\7692\\7757\\7845\\7885\\7950\\8015\\8080\\8145\\8210\\8322\\8409\\8480\\8540\\8639\\8704\\8778\\9075\\9175\\9274\\9339\\9453\\9512\\9643\\};
\addplot[pts] table[lv=6217]{28\\93\\158\\218\\266\\331\\385\\504\\569\\634\\722\\841\\908\\973\\1059\\1111\\1190\\1278\\1343\\1408\\1473\\1536\\1623\\1674\\1739\\1804\\1869\\1972\\2012\\2077\\2131\\2210\\2270\\2337\\2480\\2545\\2607\\2678\\2758\\2825\\2897\\3004\\3063\\3128\\3193\\3242\\3230\\3468\\3527\\3638\\3932\\4047\\4158\\4242\\4293\\4412\\4472\\4571\\4636\\4701\\4769\\4869\\4908\\4980\\5047\\5107\\5234\\5299\\5345\\5480\\5611\\5662\\5801\\5880\\5952\\6087\\6130\\6198\\6226\\6317\\6396\\6491\\6790\\6893\\6913\\7004\\7069\\7134\\7171\\7278\\7421\\7548\\7576\\7734\\7873\\7984\\8064\\8183\\8266\\8349\\8409\\8480\\8560\\8695\\8742\\8806\\8885\\9016\\9044\\9175\\9240\\9306\\9361\\9480\\9552\\9623\\9688\\9720\\};
\addplot[pts] table[lv=6216]{1302\\1909\\2254\\4289\\4718\\5170\\7754\\7849\\9266\\};
\addplot[pts] table[lv=6215]{4\\171\\186\\301\\373\\528\\766\\932\\1016\\1170\\1218\\1266\\1444\\1480\\1575\\1694\\1825\\2194\\2242\\2313\\2349\\2385\\2432\\2480\\2563\\2801\\3158\\3194\\3301\\3385\\3563\\3611\\3765\\3968\\4007\\4134\\4158\\4253\\4325\\4396\\4551\\4587\\4646\\4754\\4777\\5039\\5122\\5349\\5420\\5611\\6610\\7052\\7099\\7290\\7349\\7385\\7457\\7599\\7707\\7730\\7945\\8337\\8468\\8587\\8671\\8849\\9016\\9147\\9397\\9540\\9576\\};
\addplot[pts] table[lv=6214]{52\\87\\135\\385\\778\\920\\1051\\1337\\1432\\1611\\1778\\2135\\2230\\2361\\2456\\2528\\2647\\2801\\2873\\2908\\3075\\3277\\3444\\3623\\3920\\4349\\4968\\5111\\5146\\5289\\5563\\5861\\6802\\6873\\6968\\6980\\7599\\7683\\7754\\8064\\8576\\8718\\8825\\9099\\9123\\};
\addplot[pts] table[lv=6213]{52\\385\\813\\873\\920\\1075\\1254\\1301\\1361\\1456\\1551\\1778\\1801\\2087\\2301\\2611\\2849\\3099\\3146\\3182\\3385\\3551\\3599\\3861\\3873\\4099\\4134\\4206\\4503\\4539\\4706\\5182\\5349\\5468\\5515\\5599\\5658\\5884\\5932\\6075\\6253\\6337\\6623\\6695\\6718\\6814\\6957\\6980\\7099\\7290\\7445\\7552\\8707\\9433\\9456\\9552\\9576\\9706\\};
\addplot[pts] table[lv=6212]{432\\1563\\1897\\2099\\2528\\3920\\4468\\4694\\5896\\6654\\6671\\7468\\8076\\8314\\8552\\};
\addplot[pts] table[lv=6211]{171\\861\\956\\1468\\1528\\1885\\2051\\2087\\2290\\2337\\2468\\2540\\3135\\3885\\4027\\4611\\5539\\5718\\6111\\6134\\6468\\6634\\7623\\7766\\7802\\8016\\8564\\9623\\};
\addplot[pts] table[lv=6210]{2373\\2885\\4480\\5742\\7611\\8326\\8492\\};
\addplot[pts] table[lv=6209]{254\\1623\\2694\\2908\\3146\\4277\\5492\\7445\\7778\\8385\\8635\\};
\addplot[pts] table[lv=6208]{2254\\2349\\5325\\6921\\8778\\};
\addplot[pts] table[lv=6207]{659\\2075\\};
\addplot[pts] table[lv=6206]{1301\\1647\\2290\\4777\\};
\addplot[pts] table[lv=6205]{2873\\2885\\3563\\7207\\};
\addplot[pts] table[lv=6204]{2444\\};
\addplot[pts] table[lv=6202]{2754\\};
\addplot[pts] table[lv=6200]{4277\\};
\addplot[pts] table[lv=6199]{2301\\};
\addplot[pts] table[lv=6196]{1992\\};
\end{axis}
\end{tikzpicture}
\end{document}
